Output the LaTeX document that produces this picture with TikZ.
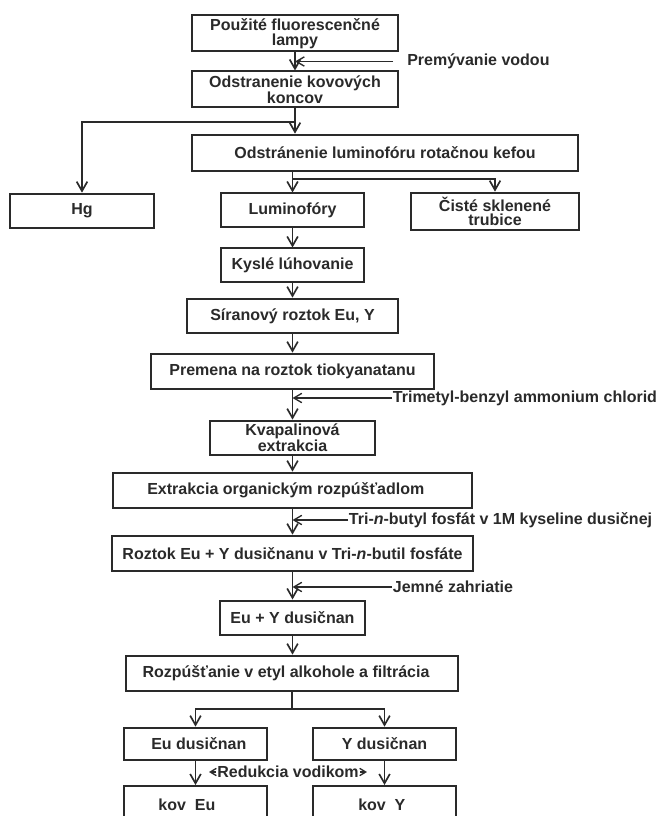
\documentclass[tikz,border=0pt]{standalone}
\usepackage{fontspec}
\setmainfont{Liberation Sans}
\usetikzlibrary{arrows.meta}
\definecolor{ink}{HTML}{2A2A2A}
\begin{document}
\begin{tikzpicture}[x=0.75pt,y=-0.75pt,
  box/.style={draw=ink, line width=1.5pt, rectangle, inner sep=1pt, align=center,
    font=\fontsize{12}{10.8}\selectfont\bfseries, text=ink},
  lbl/.style={inner xsep=0.5pt, inner ysep=1pt, anchor=west,
    font=\fontsize{12}{11}\selectfont\bfseries, text=ink},
  arr/.style={draw=ink, line width=1.25pt, -{Straight Barb[length=7pt,width=8pt,line width=1.25pt]}},
  sarr/.style={draw=ink, line width=0.8pt, -{Straight Barb[length=6pt,width=7pt,line width=1pt]}},
  tarr/.style={draw=ink, line width=0.9pt, -{Straight Barb[length=4.5pt,width=5.5pt,line width=1pt]}},
  ln/.style={draw=ink, line width=1.25pt}]
\fill[white] (0,0) rectangle (661,816);
\useasboundingbox (0,0) rectangle (661,816);
\clip (0,0) rectangle (661,816);

% boxes
\node[box, minimum width=155pt, minimum height=27pt] (lamps) at (295,33.5) {Použité fluorescenčné\\lampy};
\node[box, minimum width=155pt, minimum height=27pt] (konc) at (295,89.5) {Odstranenie kovových\\koncov};
\node[box, minimum width=290pt, minimum height=27.5pt] (lumrot) at (385,153) {Odstránenie luminofóru rotačnou kefou};
\node[box, minimum width=108.5pt, minimum height=26pt] (hg) at (82,211) {Hg};
\node[box, minimum width=107.75pt, minimum height=25.5pt] (lumf) at (292.5,210.5) {Luminofóry};
\node[box, minimum width=125.75pt, minimum height=28.25pt] (cis) at (495,211.5) {Čisté sklenené\\trubice};
\node[box, minimum width=107.75pt, minimum height=25.5pt] (kys) at (292.5,265.5) {Kyslé lúhovanie};
\node[box, minimum width=158pt, minimum height=26pt] (sir) at (292.5,316) {Síranový roztok Eu, Y};
\node[box, minimum width=212.75pt, minimum height=26.75pt] (prem) at (292.5,371.5) {Premena na roztok tiokyanatanu};
\node[box, minimum width=124.25pt, minimum height=26pt] (kvap) at (292.5,438) {Kvapalinová\\extrakcia};
\node[box, minimum width=269.75pt, minimum height=26.75pt] (extr) at (292.5,490.5) {Extrakcia organickým rozpúšťadlom\kern10pt};
\node[box, minimum width=271.25pt, minimum height=26.75pt] (rozt) at (292.5,553.5) {Roztok Eu + Y dusičnanu v Tri-\textit{n}-butil fosfáte};
\node[box, minimum width=108.5pt, minimum height=25.5pt] (euy) at (292.5,617.5) {Eu + Y dusičnan};
\node[box, minimum width=249.5pt, minimum height=26.75pt] (rozp) at (292,673.5) {Rozpúšťanie v etyl alkohole a filtrácia\kern9pt};
\node[box, minimum width=107.75pt, minimum height=24.5pt] (eud) at (195.5,744) {\kern5pt Eu dusičnan};
\node[box, minimum width=107.75pt, minimum height=24.5pt] (yd) at (384.5,744) {Y dusičnan};
\node[box, minimum width=107.75pt, minimum height=33pt] (koveu) at (195.5,808) {\raisebox{5.25pt}{kov\ \ Eu}\kern13pt};
\node[box, minimum width=107.75pt, minimum height=33pt] (kovy) at (384.5,808) {\raisebox{5.25pt}{kov\ \ Y}\kern4pt};

% side labels
\node[lbl, inner xsep=10.5pt] (pv) at (393,61.5) {Premývanie vodou};
\node[lbl] (tb) at (392,398) {Trimetyl-benzyl ammonium chlorid};
\node[lbl] (tn) at (348,520) {Tri-\textit{n}-butyl fosfát v 1M kyseline dusičnej};
\node[lbl] (jz) at (392,587) {Jemné zahriatie};
\node[lbl, anchor=center, inner xsep=1pt] (red) at (288,772) {Redukcia vodikom};
\coordinate (rl) at ([xshift=-5pt]red.west);
\coordinate (rr) at ([xshift=5pt]red.east);

% junctions
\coordinate (j1) at (295,122);
\coordinate (j2) at (292.5,179);
\coordinate (j3) at (292,709);

% main flow
\draw[arr] (lamps.south) -- (konc.north);
\draw[arr] (konc.south) -- (konc.south |- lumrot.north);
\draw[arr] (j1) -| (hg.north);
\draw[arr] (lumrot.south -| lumf.north) -- (lumf.north);
\draw[arr] (j2) -| (cis.north);
\draw[arr] (lumf.south) -- (kys.north);
\draw[arr] (kys.south) -- (sir.north);
\draw[arr] (sir.south) -- (prem.north);
\draw[arr] (prem.south) -- (kvap.north);
\draw[arr] (kvap.south) -- (extr.north);
\draw[arr] (extr.south) -- (rozt.north);
\draw[arr] (rozt.south) -- (euy.north);
\draw[arr] (euy.south) -- (euy.south |- rozp.north);
\draw[ln] (rozp.south) -- (j3);
\draw[arr] (j3) -| (eud.north);
\draw[arr] (j3) -| (yd.north);
\draw[arr] (eud.south) -- (koveu.north);
\draw[arr] (yd.south) -- (kovy.north);

% side inputs
\draw[sarr] (pv.west) -- (pv.west -| lamps.south);
\draw[sarr] (tb.west) -- (tb.west -| prem.south);
\draw[sarr] (tn.west) -- (tn.west -| extr.south);
\draw[sarr] (jz.west) -- (jz.west -| rozt.south);
\draw[tarr] (red.west) -- (rl);
\draw[tarr] (red.east) -- (rr);
\end{tikzpicture}
\end{document}
